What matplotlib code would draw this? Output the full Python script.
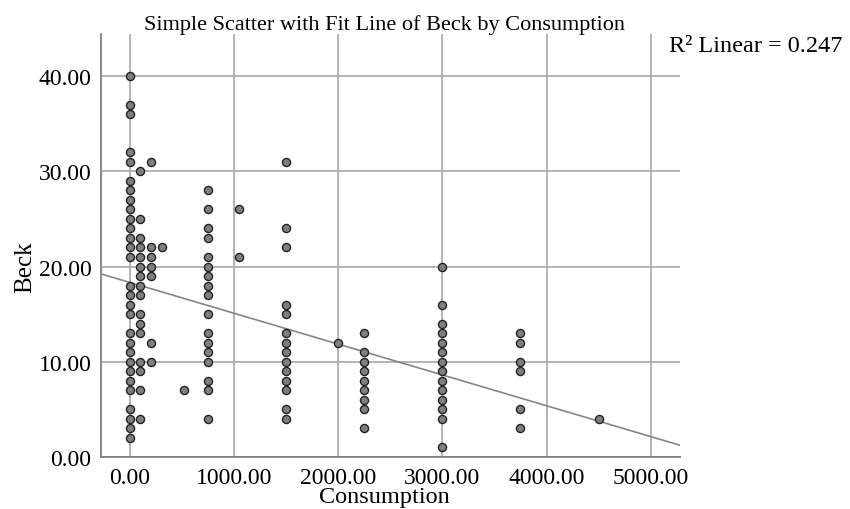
import numpy as np
import matplotlib.pyplot as plt

plt.rcParams['font.family'] = ['Liberation Serif', 'DejaVu Serif']

# Beck scores, grouped by consumption value
consumption_levels = [0, 105, 210, 315, 525, 750, 1050, 1500, 2000, 2250, 3000, 3750, 4500]
beck_by_level = [
    [40, 37, 36, 32, 31, 29, 28, 27, 26, 25, 24, 23, 22, 21, 18, 17, 16, 15,
     13, 12, 11, 10, 9, 8, 7, 5, 4, 3, 2],
    [30, 25, 23, 22, 21, 20, 19, 18, 17, 15, 14, 13, 10, 9, 7, 4],
    [31, 22, 21, 20, 19, 12, 10],
    [22],
    [7],
    [28, 26, 24, 23, 21, 20, 19, 18, 17, 15, 13, 12, 11, 10, 8, 7, 4],
    [26, 21],
    [31, 24, 22, 16, 15, 13, 12, 11, 10, 9, 8, 7, 5, 4],
    [12],
    [13, 11, 10, 9, 8, 7, 6, 5, 3],
    [20, 16, 14, 13, 12, 11, 10, 9, 8, 7, 6, 5, 4, 1],
    [13, 12, 10, 9, 5, 3],
    [4],
]

# fit line as shown in the chart
fit_intercept = 18.34
fit_slope = -0.00324
r2_text = 'R² Linear = 0.247'

x_ticks = [0, 1000, 2000, 3000, 4000, 5000]
y_ticks = [0, 10, 20, 30, 40]

xs = np.concatenate([[c] * len(b) for c, b in zip(consumption_levels, beck_by_level)])
ys = np.concatenate(beck_by_level)

fig = plt.figure(figsize=(8.5, 5.1), dpi=100)
ax = fig.add_axes([0.119, 0.102, 0.681, 0.829])

ax.set_xlim(-272, 5280)
ax.set_ylim(0, 44.4)

ax.grid(True, color='#a8a8a8', linewidth=1.2)
ax.set_axisbelow(True)

xl = np.array(ax.get_xlim())
ax.plot(xl, fit_intercept + fit_slope * xl, color='#858585', linewidth=1.2, zorder=2)

ax.scatter(xs, ys, s=34, facecolor='#7f7f7f', edgecolor='#222222', linewidth=1.0, zorder=3)

ax.set_xticks(x_ticks)
ax.set_yticks(y_ticks)
ax.set_xticklabels(['%.2f' % v for v in x_ticks])
ax.set_yticklabels(['%.2f' % v for v in y_ticks])
ax.tick_params(length=0, labelsize=17, pad=7, colors='black')

for s in ['top', 'right']:
    ax.spines[s].set_visible(False)
for s in ['left', 'bottom']:
    ax.spines[s].set_color('#808080')
    ax.spines[s].set_linewidth(1.3)

ax.set_xlabel('Consumption', fontsize=17.5)
ax.xaxis.set_label_coords(0.49, -0.068)
ax.set_ylabel('Beck', fontsize=18)
ax.yaxis.set_label_coords(-0.112, 0.45)
ax.set_title('Simple Scatter with Fit Line of Beck by Consumption', fontsize=16, pad=3, x=0.49)

fig.text(0.787, 0.908, r2_text, fontsize=17.5, ha='left', va='center')

fig.savefig('out.png', dpi=100)
